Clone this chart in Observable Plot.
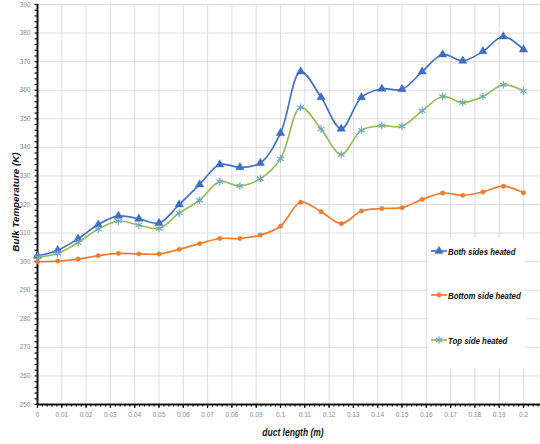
<!DOCTYPE html>
<html>
<head>
<meta charset="utf-8">
<script src="https://cdn.jsdelivr.net/npm/d3@7"></script>
<script src="https://cdn.jsdelivr.net/npm/@observablehq/plot@0.6"></script>
<style>
  html, body { margin: 0; padding: 0; background: #fff; }
  #wrap { position: relative; width: 540px; height: 444px; }
  #legend {
    position: absolute; left: 428px; top: 238px; width: 97px; height: 130px;
    background: #fff;
    font-family: "Liberation Sans", Arial, sans-serif;
    font-weight: bold; font-style: italic; font-size: 9.8px; color: #111;
  }
  #legend .item { position: absolute; left: 3px; display: flex; align-items: center; white-space: nowrap; }
  #legend svg { display: block; margin-right: 1px; }
  #legend span { display: inline-block; transform: scaleX(0.8); transform-origin: left center; }
</style>
</head>
<body>
<div id="wrap"></div>
<script>
// Sampling positions along the duct (m)
const ductLength = [0, 0.0083, 0.0167, 0.025, 0.0333, 0.0417, 0.05, 0.0583, 0.0667, 0.075,
  0.0833, 0.0917, 0.1, 0.1083, 0.1167, 0.125, 0.1333, 0.1417, 0.15, 0.1583,
  0.1667, 0.175, 0.1833, 0.1917, 0.2];

// Bulk temperature (K) for each heating case
const bothSides = [302, 304, 308, 313, 316, 315, 313.5, 320, 327, 334,
  333, 334.5, 345, 366.5, 357.5, 346.5, 357.5, 360.5, 360.3, 366.5,
  372.5, 370.3, 373.6, 378.8, 374.2];
const bottomSide = [300, 300.2, 300.9, 302.1, 302.9, 302.7, 302.7, 304.3, 306.3, 308.1,
  308.1, 309.3, 312.4, 320.8, 317.5, 313.3, 317.7, 318.6, 318.9, 321.8,
  324, 323.2, 324.4, 326.4, 324.1];
const topSide = [301.6, 302.9, 306.7, 311.4, 314.2, 312.8, 311.6, 317, 321.5, 328,
  326.5, 329, 336, 354, 346.4, 337.5, 346, 347.6, 347.4, 352.8,
  357.8, 355.7, 357.8, 361.9, 359.7];

const seriesNames = ["Both sides heated", "Bottom side heated", "Top side heated"];

// Axis ticks
const xTicks = [0, 0.01, 0.02, 0.03, 0.04, 0.05, 0.06, 0.07, 0.08, 0.09, 0.1,
  0.11, 0.12, 0.13, 0.14, 0.15, 0.16, 0.17, 0.18, 0.19, 0.2];
const yTicks = [250, 260, 270, 280, 290, 300, 310, 320, 330, 340, 350, 360, 370, 380, 390];

const styles = [
  {line: "#4472C4", marker: "#3E6EC0", symbol: "triangle", r: 3.1, fill: true},
  {line: "#ED7D31", marker: "#ED7D31", symbol: "circle", r: 2.2, fill: true},
  {line: "#97BE5A", marker: "#6FA9C6", symbol: "asterisk", r: 3.6, fill: false}
];

const seriesValues = [bothSides, bottomSide, topSide];
const rows = seriesNames.flatMap((name, s) =>
  ductLength.map((x, i) => ({series: name, x, t: seriesValues[s][i]})));

const tickFont = "Liberation Sans, Arial, sans-serif";
const blank = () => "";

const marks = [
  Plot.gridX(xTicks, {stroke: "#d4d4d4", strokeOpacity: 1, strokeWidth: 0.8}),
  Plot.gridY(yTicks.filter(d => d > 250), {stroke: "#d4d4d4", strokeOpacity: 1, strokeWidth: 0.8}),
  // minor ticks along both axes
  Plot.axisX(d3.range(0, 0.2071, 0.002), {tickSize: 2.5, stroke: "#111", strokeWidth: 1.2, tickFormat: blank, label: null}),
  Plot.axisY(d3.range(250, 391, 2), {tickSize: 2.5, stroke: "#111", strokeWidth: 1.2, tickFormat: blank, label: null}),
  Plot.axisX(xTicks, {tickSize: 4, stroke: "#111", strokeWidth: 1.2, tickPadding: 4,
    tickFormat: d => String(+d.toFixed(2)), fill: "#8a8a8a", fontSize: 6.5, fontFamily: tickFont, label: null}),
  Plot.axisY(yTicks, {tickSize: 0, tickPadding: 7, fill: "#8a8a8a", fontSize: 6.5, fontFamily: tickFont, label: null}),
  Plot.ruleX([0], {stroke: "#111", strokeWidth: 2}),
  Plot.ruleY([250], {stroke: "#111", strokeWidth: 2})
];

seriesNames.forEach((name, s) => {
  const st = styles[s];
  const data = rows.filter(d => d.series === name);
  marks.push(Plot.line(data, {x: "x", y: "t", stroke: st.line, strokeWidth: 1.7, curve: "catmull-rom"}));
  marks.push(Plot.dot(data, {x: "x", y: "t", symbol: st.symbol, r: st.r,
    fill: st.fill ? st.marker : "none", stroke: st.marker, strokeWidth: st.fill ? 0.5 : 1.2}));
});

const chart = Plot.plot({
  width: 540,
  height: 444,
  marginLeft: 37,
  marginRight: 0,
  marginTop: 4,
  marginBottom: 40,
  style: {background: "#fff", overflow: "visible"},
  x: {domain: [0, 0.207], axis: null},
  y: {domain: [250, 390], axis: null},
  marks
});

const wrap = document.getElementById("wrap");
wrap.appendChild(chart);

// Axis titles
const svg = d3.select(chart);
svg.append("text")
  .attr("x", 293).attr("y", 436)
  .attr("text-anchor", "middle")
  .attr("transform", "translate(293,0) scale(0.85,1) translate(-293,0)")
  .style("font-family", "Liberation Sans, Arial, sans-serif")
  .style("font-weight", "bold").style("font-style", "italic").style("font-size", "10px")
  .attr("fill", "#111")
  .text("duct length (m)");
svg.append("text")
  .attr("transform", "translate(19,202) rotate(-90)")
  .attr("text-anchor", "middle")
  .style("font-family", "Liberation Sans, Arial, sans-serif")
  .style("font-weight", "bold").style("font-style", "italic").style("font-size", "9.8px")
  .attr("fill", "#111")
  .text("Bulk Temperature (K)");

// Legend
const legend = document.createElement("div");
legend.id = "legend";
const legendTops = [13, 57, 102];
seriesNames.forEach((name, s) => {
  const st = styles[s];
  const item = document.createElement("div");
  item.className = "item";
  item.style.top = (legendTops[s] - 6) + "px";
  const ns = "http://www.w3.org/2000/svg";
  const icon = document.createElementNS(ns, "svg");
  icon.setAttribute("width", 16); icon.setAttribute("height", 12);
  const ln = document.createElementNS(ns, "line");
  ln.setAttribute("x1", 0); ln.setAttribute("x2", 16); ln.setAttribute("y1", 6); ln.setAttribute("y2", 6);
  ln.setAttribute("stroke", st.line); ln.setAttribute("stroke-width", 1.7);
  icon.appendChild(ln);
  const sym = document.createElementNS(ns, "path");
  const symType = {triangle: d3.symbolTriangle, circle: d3.symbolCircle, asterisk: d3.symbolAsterisk}[st.symbol];
  sym.setAttribute("d", d3.symbol(symType, Math.PI * st.r * st.r)());
  sym.setAttribute("transform", "translate(8,6)");
  sym.setAttribute("fill", st.fill ? st.marker : "none");
  sym.setAttribute("stroke", st.marker);
  sym.setAttribute("stroke-width", st.fill ? 0.5 : 1.2);
  icon.appendChild(sym);
  item.appendChild(icon);
  const label = document.createElement("span");
  label.textContent = name;
  item.appendChild(label);
  legend.appendChild(item);
});
wrap.appendChild(legend);
</script>
</body>
</html>
